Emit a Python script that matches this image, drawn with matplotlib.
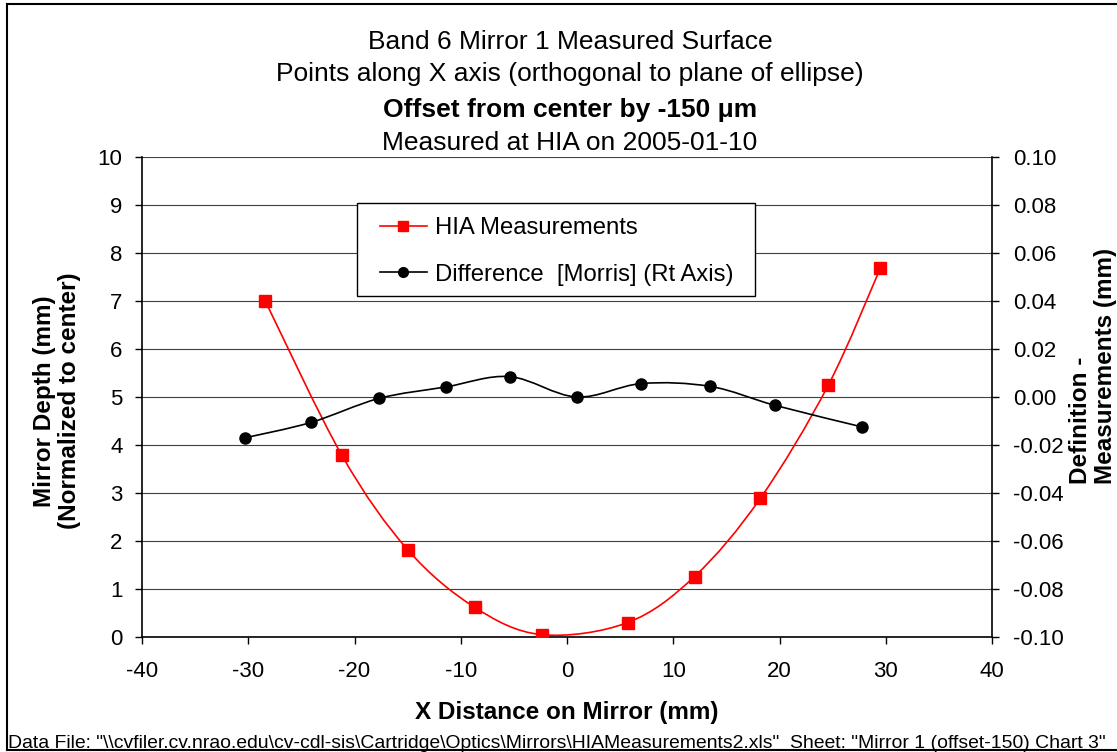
import matplotlib
matplotlib.use('Agg')
import matplotlib.pyplot as plt
import numpy as np
from matplotlib.path import Path
from matplotlib.patches import PathPatch, Rectangle
from matplotlib.lines import Line2D
from matplotlib import font_manager

# data
hia_x = [-28.4, -21.2, -15.0, -8.7, -2.4, 5.7, 12.0, 18.2, 24.6, 29.5]
hia_y = [7.00, 3.79, 1.82, 0.62, 0.05, 0.30, 1.26, 2.89, 5.25, 7.69]

diff_x = [-30.3, -24.1, -17.7, -11.4, -5.4, 0.9, 7.0, 13.5, 19.6, 27.8]
diff_y = [-0.0170, -0.0106, -0.0006, 0.0042, 0.0085, 0.0000, 0.0056, 0.0044, -0.0035, -0.0125]

title_lines = ['Band 6 Mirror 1 Measured Surface',
               'Points along X axis (orthogonal to plane of ellipse)',
               'Offset from center by -150 \u03bcm',
               'Measured at HIA on 2005-01-10']
data_note = ('Data File: "\\\\cvfiler.cv.nrao.edu\\cv-cdl-sis\\Cartridge\\Optics\\Mirrors\\HIAMeasurements2.xls"'
             '  Sheet: "Mirror 1 (offset-150) Chart 3"')

plt.rcParams['font.family'] = ['Liberation Sans', 'DejaVu Sans']
plt.rcParams['axes.unicode_minus'] = False

names = set(f.name for f in font_manager.fontManager.ttflist)
narrow = 'Liberation Sans Narrow' if 'Liberation Sans Narrow' in names else 'Liberation Sans'


def smooth_path(xs, ys):
    # excel style smoothed line (bezier through the points)
    pts = np.column_stack([xs, ys])
    n = len(pts)
    verts = [pts[0]]
    codes = [Path.MOVETO]
    for i in range(n - 1):
        p0 = pts[i - 1] if i > 0 else pts[i]
        p1 = pts[i]
        p2 = pts[i + 1]
        p3 = pts[i + 2] if i + 2 < n else pts[i + 1]
        verts += [p1 + (p2 - p0) / 6.0, p2 - (p3 - p1) / 6.0, p2]
        codes += [Path.CURVE4] * 3
    return Path(verts, codes)


fig = plt.figure(figsize=(11.17, 7.52), dpi=100)
ax = fig.add_axes([142 / 1117, 1 - 637 / 752, 850 / 1117, 480 / 752])
ax2 = ax.twinx()

ax.set_xlim(-40, 40)
ax.set_ylim(0, 10)
ax2.set_ylim(-0.10, 0.10)
ax.set_xticks(np.arange(-40, 41, 10))
ax.set_yticks(np.arange(0, 11, 1))
ax2.set_yticks(np.arange(-0.10, 0.101, 0.02))
ax2.set_yticklabels(['%.2f' % v for v in np.arange(-0.10, 0.101, 0.02)])

ax.grid(axis='y', color='#404040', linewidth=0.8)
ax.set_axisbelow(True)
for a in (ax, ax2):
    a.spines['top'].set_visible(False)
    for s in a.spines.values():
        s.set_linewidth(1.2)
ax.spines['right'].set_visible(False)
ax2.spines['left'].set_visible(False)
ax2.spines['bottom'].set_visible(False)

ax.tick_params(axis='y', direction='out', length=5, width=1, labelsize=16, pad=9)
ax.tick_params(axis='x', direction='out', length=5, width=1, labelsize=16, pad=12)
ax2.tick_params(axis='y', direction='out', length=5, width=1, labelsize=16, pad=10)

# measurement curve
ax.add_patch(PathPatch(smooth_path(hia_x, hia_y), facecolor='none', edgecolor='red', lw=1.2, zorder=3))
ax.plot(hia_x, hia_y, linestyle='none', marker='s', markersize=8, color='red', zorder=4)

# difference curve (right axis)
ax2.add_patch(PathPatch(smooth_path(diff_x, diff_y), facecolor='none', edgecolor='black', lw=1.2, zorder=3))
ax2.plot(diff_x, diff_y, linestyle='none', marker='o', markersize=8, color='black', zorder=4)

# legend box drawn separately so the padding matches the excel one
ax2.add_patch(Rectangle(((357 - 142) / 850, (637 - 296) / 480), 398 / 850, 93 / 480,
                        transform=ax2.transAxes, facecolor='white', edgecolor='black',
                        lw=1.0, zorder=6))
handles = [Line2D([], [], color='red', lw=1.2, marker='s', markersize=7),
           Line2D([], [], color='black', lw=1.2, marker='o', markersize=7)]
leg = ax2.legend(handles, ['HIA Measurements', 'Difference  [Morris] (Rt Axis)'],
                 loc='upper left', bbox_to_anchor=((380 - 142) / 850, (637 - 217) / 480),
                 borderaxespad=0, borderpad=0, frameon=False,
                 fontsize=17.2, handlelength=1.95, handletextpad=0.35, labelspacing=1.03)
leg.set_zorder(7)

# titles
ys = [42, 74, 110, 143]
for i, (t, yy) in enumerate(zip(title_lines, ys)):
    fig.text(570 / 1117, 1 - yy / 752, t, ha='center', va='center', fontsize=19,
             fontweight='bold' if i == 2 else 'normal')

fig.text(567 / 1117, 1 - 713 / 752, 'X Distance on Mirror (mm)', ha='center', va='center',
         fontsize=17.5, fontweight='bold')
fig.text(57 / 1117, 1 - 401 / 752, 'Mirror Depth (mm)\n(Normalized to center)', ha='center',
         va='center', rotation=90, fontsize=17.5, fontweight='bold', multialignment='center',
         linespacing=1.15)
fig.text(1093 / 1117, 1 - 366 / 752, 'Definition -\nMeasurements (mm)', ha='center',
         va='center', rotation=90, fontsize=17.5, fontweight='bold', multialignment='left',
         linespacing=1.15)

note = fig.text(8 / 1117, 1 - 748 / 752, data_note, ha='left', va='baseline',
                fontsize=12, family=narrow)
# fit the note to the width it takes in the reference
fig.canvas.draw()
w = note.get_window_extent().width
note.set_fontsize(12 * 1097 / w)

# outer chart border
fig.add_artist(Line2D([7 / 1117, 7 / 1117], [1 - 4 / 752, 1 - 750 / 752], color='black', lw=1.5))
fig.add_artist(Line2D([7 / 1117, 1], [1 - 4 / 752, 1 - 4 / 752], color='black', lw=1.5))
fig.add_artist(Line2D([7 / 1117, 1], [1 - 750 / 752, 1 - 750 / 752], color='black', lw=1.5))

fig.savefig('out.png', dpi=100)
